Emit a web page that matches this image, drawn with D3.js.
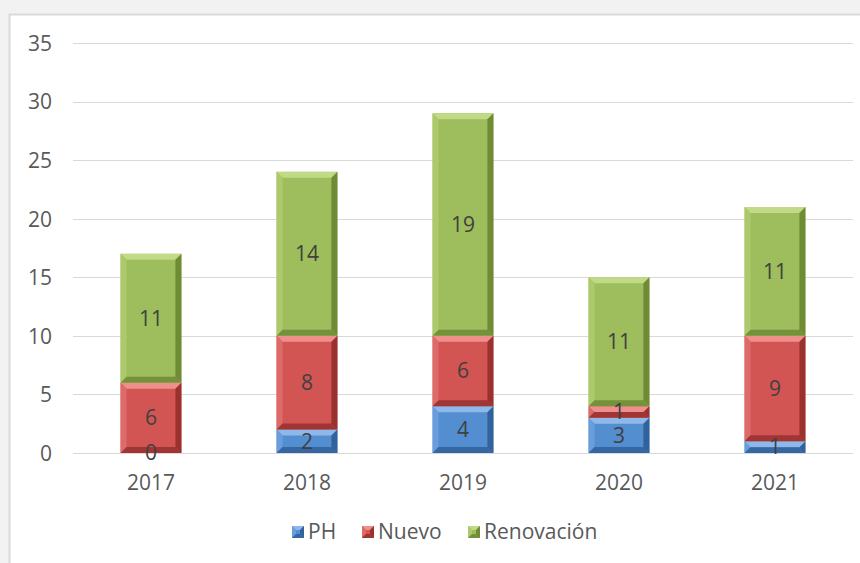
<!DOCTYPE html>
<html>
<head>
<meta charset="utf-8">
<script src="https://cdn.jsdelivr.net/npm/d3@7"></script>
<style>
html,body{margin:0;padding:0;background:#f2f2f2;}
svg{display:block;}
</style>
</head>
<body>
<svg id="chart" width="860" height="563"></svg>
<script>
const categories = ["2017","2018","2019","2020","2021"];
const seriesNames = ["PH","Nuevo","Renovación"];
const phValues = [0,2,4,3,1];
const nuevoValues = [6,8,6,1,9];
const renovacionValues = [11,14,19,11,11];
const yTicks = [0,5,10,15,20,25,30,35];

const palette = {
  "PH":        {base:"#538ed0", light:"#8fb8ea", side:"#6a9ddb", dark:"#2c5a93"},
  "Nuevo":     {base:"#d35553", light:"#ee8f8c", side:"#dc6b69", dark:"#8e2b29"},
  "Renovación":{base:"#9ebd5c", light:"#c0da86", side:"#acc96c", dark:"#67832f"}
};

const svg = d3.select("#chart");
const W = 860, H = 563;

// chart frame
svg.append("rect").attr("x",0).attr("y",0).attr("width",W).attr("height",H).attr("fill","#f2f2f2");
svg.append("rect").attr("x",9.5).attr("y",14.5).attr("width",W).attr("height",H).attr("fill","#ffffff")
   .attr("stroke","#d9d9d9").attr("stroke-width",2);

const plot = {left:73, right:853, top:43, bottom:453};

const x = d3.scaleBand().domain(categories).range([plot.left, plot.right]).paddingInner(0.61).paddingOuter(0.305);
const y = d3.scaleLinear().domain([0,35]).range([plot.bottom, plot.top]);

const font = "'Open Sans', 'DejaVu Sans', sans-serif";
const fs = 21;

// gridlines
svg.append("g").selectAll("line").data(yTicks).join("line")
  .attr("x1",plot.left).attr("x2",plot.right)
  .attr("y1",d=>Math.round(y(d))+0.5).attr("y2",d=>Math.round(y(d))+0.5)
  .attr("stroke","#d9d9d9").attr("stroke-width",1);

// y axis labels
const yAxis = d3.axisLeft(y).tickValues(yTicks).tickSize(0).tickPadding(0);
const yg = svg.append("g").attr("transform",`translate(${plot.left-21},0)`).call(yAxis);
yg.select(".domain").remove();
yg.selectAll("text").attr("font-family",font).attr("font-size",fs).attr("fill","#595959").attr("dy","0.35em");

// x axis labels
const xAxis = d3.axisBottom(x).tickSize(0).tickPadding(0);
const xg = svg.append("g").attr("transform",`translate(0,${plot.bottom+22})`).call(xAxis);
xg.select(".domain").remove();
xg.selectAll("text").attr("font-family",font).attr("font-size",fs).attr("fill","#595959").attr("dy","0.71em");

// stack
const rows = categories.map((c,i)=>({cat:c, "PH":phValues[i], "Nuevo":nuevoValues[i], "Renovación":renovacionValues[i]}));
const stack = d3.stack().keys(seriesNames)(rows);

function bevel(g, x0, y0, w, h, col, bmax){
  const b = Math.min(bmax, h/2, w/2);
  const x1 = x0+w, y1 = y0+h;
  const poly = pts => pts.map(p=>p.join(",")).join(" ");
  g.append("rect").attr("x",x0).attr("y",y0).attr("width",w).attr("height",h).attr("fill",col.base);
  g.append("polygon").attr("points",poly([[x0,y0],[x1,y0],[x1-b,y0+b],[x0+b,y0+b]])).attr("fill",col.light);
  g.append("polygon").attr("points",poly([[x0,y0],[x0+b,y0+b],[x0+b,y1-b],[x0,y1]])).attr("fill",col.side);
  g.append("polygon").attr("points",poly([[x1,y0],[x1-b,y0+b],[x1-b,y1-b],[x1,y1]])).attr("fill",col.dark).attr("opacity",0.85);
  g.append("polygon").attr("points",poly([[x0,y1],[x1,y1],[x1-b,y1-b],[x0+b,y1-b]])).attr("fill",col.dark).attr("opacity",0.75);
}

const bars = svg.append("g");
stack.forEach(layer=>{
  const col = palette[layer.key];
  layer.forEach(d=>{
    const x0 = x(d.data.cat), w = x.bandwidth();
    const yt = y(d[1]), yb = y(d[0]);
    const h = yb - yt;
    if (h > 0) bevel(bars.append("g"), x0, yt, w, h, col, 6);
  });
});

// data labels
const labels = svg.append("g");
stack.forEach(layer=>{
  layer.forEach(d=>{
    const v = d[1]-d[0];
    labels.append("text")
      .attr("x", x(d.data.cat)+x.bandwidth()/2)
      .attr("y", (y(d[0])+y(d[1]))/2)
      .attr("dy","0.35em")
      .attr("text-anchor","middle")
      .attr("font-family",font).attr("font-size",fs).attr("fill","#404040")
      .text(v);
  });
});

// legend
const legendItems = [
  {name:"PH", x:292},
  {name:"Nuevo", x:362},
  {name:"Renovación", x:468}
];
const lg = svg.append("g");
legendItems.forEach(it=>{
  bevel(lg.append("g"), it.x, 526, 12, 12, palette[it.name], 4);
  lg.append("text").attr("x",it.x+16).attr("y",532).attr("dy","0.35em")
    .attr("font-family",font).attr("font-size",fs).attr("fill","#595959").text(it.name);
});
</script>
</body>
</html>
